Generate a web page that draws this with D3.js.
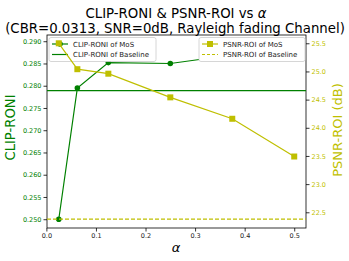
<!DOCTYPE html>
<html>
<head>
<meta charset="utf-8">
<script src="https://cdn.jsdelivr.net/npm/d3@7"></script>
<style>
  body { margin: 0; background: #fff; }
  text { font-family: "DejaVu Sans", sans-serif; }
</style>
</head>
<body>
<svg width="349" height="261"></svg>
<script>
const alphas = [0.025, 0.0625, 0.125, 0.25, 0.375, 0.5];
const clipMoS = [0.2500, 0.2795, 0.2852, 0.2850, 0.2869, 0.2894];
const clipBaseline = 0.2789;
const psnrMoS = [25.5, 25.04, 24.96, 24.54, 24.16, 23.49];
const psnrBaseline = 22.38;
const xTicks = [0.0, 0.1, 0.2, 0.3, 0.4, 0.5];
const clipTicks = [0.250, 0.255, 0.260, 0.265, 0.270, 0.275, 0.280, 0.285, 0.290];
const psnrTicks = [22.5, 23.0, 23.5, 24.0, 24.5, 25.0, 25.5];

const green = "#008000", yellow = "#bfbf00";
const svg = d3.select("svg");
const pL = 47, pR = 306, pT = 35, pB = 228;

const x = d3.scaleLinear().domain([0.00125, 0.52375]).range([pL, pR]);
const yL = d3.scaleLinear().domain([0.24803, 0.2914]).range([pB, pT]);
const yR = d3.scaleLinear().domain([22.221, 25.647]).range([pB, pT]);

// title
svg.append("text").attr("x", 176).attr("y", 17.5).attr("text-anchor", "middle")
  .attr("font-size", 13.3).text("CLIP-RONI & PSNR-ROI vs ")
  .append("tspan").attr("font-style", "italic").text("α");
svg.append("text").attr("x", 175).attr("y", 32.5).attr("text-anchor", "middle")
  .attr("font-size", 13.3).text("(CBR=0.0313, SNR=0dB, Rayleigh fading Channel)");

// axes
const gx = svg.append("g").attr("transform", `translate(0,${pB})`)
  .call(d3.axisBottom(x).tickValues(xTicks).tickFormat(d3.format(".1f")).tickSize(3.5).tickPadding(2));
const gl = svg.append("g").attr("transform", `translate(${pL},0)`)
  .call(d3.axisLeft(yL).tickValues(clipTicks).tickFormat(d3.format(".3f")).tickSize(3.5).tickPadding(2));
const gr = svg.append("g").attr("transform", `translate(${pR},0)`)
  .call(d3.axisRight(yR).tickValues(psnrTicks).tickFormat(d3.format(".1f")).tickSize(3.5).tickPadding(2));
[gx, gl, gr].forEach(g => {
  g.selectAll(".domain").remove();
  g.selectAll("line").attr("stroke", "#000").attr("stroke-width", 0.8);
  g.selectAll("text").attr("font-size", 6.5).attr("font-family", "DejaVu Sans");
});
gx.selectAll("text").attr("fill", "#222");
gl.selectAll("text").attr("fill", green);
gr.selectAll("text").attr("fill", yellow);

svg.append("rect").attr("x", pL).attr("y", pT).attr("width", pR - pL)
  .attr("height", pB - pT).attr("fill", "none").attr("stroke", "#000").attr("stroke-width", 0.8);

svg.append("text").attr("x", 176).attr("y", 252).attr("text-anchor", "middle")
  .attr("font-size", 13).attr("font-style", "italic").text("α");
svg.append("text").attr("transform", "translate(15,127.5) rotate(-90)").attr("text-anchor", "middle")
  .attr("font-size", 13.2).attr("fill", green).text("CLIP-RONI");
svg.append("text").attr("transform", "translate(342,130) rotate(-90)").attr("text-anchor", "middle")
  .attr("font-size", 13).attr("fill", yellow).text("PSNR-ROI (dB)");

function legend(gx0, w, items) {
  const g = svg.append("g");
  g.append("rect").attr("x", gx0).attr("y", 37.5).attr("width", w).attr("height", 24)
    .attr("rx", 2).attr("fill", "#fff").attr("stroke", "#ccc").attr("stroke-width", 0.8);
  items.forEach((it, i) => {
    const cy = 44 + i * 10.5;
    g.append("line").attr("x1", gx0 + 3).attr("x2", gx0 + 19).attr("y1", cy).attr("y2", cy)
      .attr("stroke", it.color).attr("stroke-width", 1.2).attr("stroke-dasharray", it.dash || null);
    if (it.marker === "circle")
      g.append("circle").attr("cx", gx0 + 11).attr("cy", cy).attr("r", 2.8).attr("fill", it.color);
    if (it.marker === "square")
      g.append("rect").attr("x", gx0 + 8).attr("y", cy - 3).attr("width", 6).attr("height", 6).attr("fill", it.color);
    g.append("text").attr("x", gx0 + 24).attr("y", cy + 2.5).attr("font-size", 7).attr("fill", "#222").text(it.label);
  });
}

// CLIP-RONI (left axis)
const lineL = d3.line().x((d, i) => x(alphas[i])).y(d => yL(d));
svg.append("line").attr("x1", pL).attr("x2", pR).attr("y1", yL(clipBaseline)).attr("y2", yL(clipBaseline))
  .attr("stroke", green).attr("stroke-width", 1.2);
svg.append("path").datum(clipMoS).attr("d", lineL).attr("fill", "none").attr("stroke", green).attr("stroke-width", 1.2);
svg.selectAll(".cm").data(clipMoS).join("circle").attr("cx", (d, i) => x(alphas[i])).attr("cy", d => yL(d))
  .attr("r", 2.8).attr("fill", green);
legend(49, 107, [
  { label: "CLIP-RONI of MoS", color: green, marker: "circle" },
  { label: "CLIP-RONI of Baseline", color: green }
]);

// PSNR-ROI (right axis)
const lineR = d3.line().x((d, i) => x(alphas[i])).y(d => yR(d));
svg.append("line").attr("x1", pL).attr("x2", pR).attr("y1", yR(psnrBaseline)).attr("y2", yR(psnrBaseline))
  .attr("stroke", yellow).attr("stroke-width", 1.2).attr("stroke-dasharray", "4,2");
svg.append("path").datum(psnrMoS).attr("d", lineR).attr("fill", "none").attr("stroke", yellow).attr("stroke-width", 1.2);
svg.selectAll(".pm").data(psnrMoS).join("rect").attr("x", (d, i) => x(alphas[i]) - 3).attr("y", d => yR(d) - 3)
  .attr("width", 6).attr("height", 6).attr("fill", yellow);
legend(199, 106, [
  { label: "PSNR-ROI of MoS", color: yellow, marker: "square" },
  { label: "PSNR-ROI of Baseline", color: yellow, dash: "3,2" }
]);
</script>
</body>
</html>
